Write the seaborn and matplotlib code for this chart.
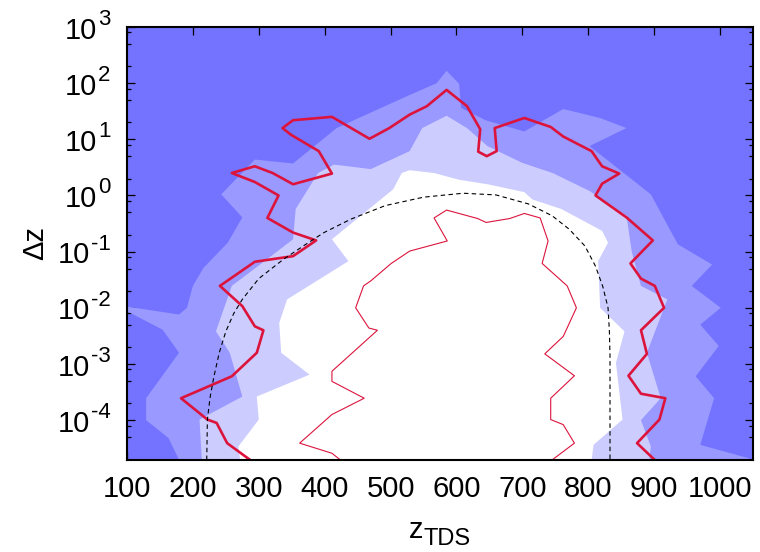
import numpy as np
import matplotlib
matplotlib.use("Agg")
import matplotlib.pyplot as plt
import seaborn as sns
from matplotlib.ticker import NullFormatter, FixedLocator
from matplotlib.transforms import blended_transform_factory, ScaledTranslation

sns.set_theme(style="ticks")
plt.rcParams["font.family"] = ["Liberation Sans", "DejaVu Sans"]
plt.rcParams["text.color"] = "black"
plt.rcParams["axes.labelcolor"] = "black"
plt.rcParams["xtick.color"] = "black"
plt.rcParams["ytick.color"] = "black"

# filled contour colours, from the outermost level inwards
level_colors = ["#7373ff", "#9999ff", "#ccccff", "#ffffff"]

# boundary of level 1 (z_TDS, log10 Δz)
lvl1_z = [191, 163, 129, 129, 179, 154, 95, 95, 179, 191, 200, 216, 253, 275,
          243, 294, 352, 418, 529, 570, 585, 604, 607, 644, 703, 762, 818, 858,
          802, 895, 936, 988, 957, 1001, 970, 998, 963, 991, 970, 1044, 1044]
lvl1_logdz = [-5.0, -4.32, -4.0, -3.61, -2.80, -2.39, -2.03, -1.97, -2.12, -2.0,
              -1.61, -1.29, -0.84, -0.39, 0.02, 0.64, 0.57, 1.20, 1.79, 2.0, 2.22,
              1.99, 1.56, 1.34, 1.14, 1.54, 1.38, 1.20, 0.88, 0.02, -0.87, -1.23,
              -1.61, -2.0, -2.30, -2.68, -3.22, -3.61, -4.44, -4.68, -5.0]

# boundary of level 2
lvl2_z = [215, 210, 275, 256, 235, 259, 312, 352, 356, 390, 414, 470, 529, 548,
          585, 616, 647, 700, 746, 802, 858, 866, 880, 920, 889, 910, 880, 895, 890]
lvl2_logdz = [-5.0, -3.99, -3.58, -2.80, -2.42, -1.61, -1.14, -0.78, -0.24, 0.40,
              0.55, 0.47, 0.79, 1.20, 1.42, 1.20, 0.88, 0.58, 0.40, 0.08, -0.36,
              -1.0, -1.61, -1.85, -2.80, -3.61, -4.0, -4.47, -5.0]

# boundary of level 3
lvl3_z = [275, 269, 300, 297, 377, 334, 331, 343, 436, 411, 504, 517, 529, 566,
          604, 647, 703, 715, 759, 821, 830, 815, 818, 855, 842, 852, 808, 802]
lvl3_logdz = [-5.0, -4.47, -3.99, -3.58, -3.19, -2.80, -2.27, -1.85, -1.17, -0.78,
              0.11, 0.40, 0.45, 0.40, 0.28, 0.20, 0.06, -0.07, -0.24, -0.63, -0.84,
              -1.17, -2.0, -2.42, -2.98, -3.99, -4.44, -5.0]

# outer red contour
outer_z = [287, 252, 236, 222, 182, 259, 297, 307, 294, 275, 241, 294, 352, 387,
           352, 313, 330, 294, 259, 294, 321, 352, 411, 391, 349, 336, 352, 411,
           468, 498, 529, 555, 585, 616, 636, 633, 646, 661, 658, 703, 743, 762,
           805, 821, 847, 821, 811, 858, 898, 864, 880, 901, 915, 880, 889, 861,
           880, 917, 908, 874, 901]
outer_logdz = [-4.71, -4.41, -4.05, -3.99, -3.61, -3.22, -2.80, -2.40, -2.33, -1.97,
               -1.61, -1.18, -1.08, -0.80, -0.66, -0.40, 0.0, 0.24, 0.40, 0.52,
               0.40, 0.20, 0.39, 0.79, 1.08, 1.20, 1.34, 1.40, 1.01, 1.20, 1.44,
               1.59, 1.88, 1.59, 1.18, 0.78, 0.70, 0.79, 1.20, 1.38, 1.22, 1.05,
               0.79, 0.52, 0.39, 0.21, 0.0, -0.39, -0.80, -1.21, -1.48, -1.61,
               -2.0, -2.40, -2.82, -3.21, -3.53, -3.61, -3.99, -4.41, -4.71]

# inner red contour
inner_z = [424, 411, 362, 411, 460, 411, 411, 480, 467, 447, 459, 470, 501, 529,
           586, 566, 585, 632, 645, 681, 703, 727, 739, 730, 768, 782, 762, 734,
           779, 743, 743, 762, 779, 745]
inner_logdz = [-4.71, -4.59, -4.41, -3.90, -3.61, -3.31, -3.13, -2.40, -2.36, -2.0,
               -1.61, -1.52, -1.21, -0.99, -0.81, -0.40, -0.26, -0.41, -0.48, -0.41,
               -0.32, -0.40, -0.81, -1.21, -1.61, -2.0, -2.51, -2.82, -3.21, -3.61,
               -3.99, -4.08, -4.41, -4.71]

# dashed limiting curve
limit_z = [221, 222, 226, 232, 240, 250, 262, 275, 300, 337, 370, 399, 440, 492,
           550, 610, 660, 709, 745, 771, 795, 811, 822, 830, 832, 833, 833]
limit_logdz = [-4.71, -3.99, -3.60, -3.22, -2.80, -2.42, -2.10, -1.85, -1.48, -1.14,
               -0.88, -0.66, -0.42, -0.18, -0.03, 0.04, 0.01, -0.15, -0.36, -0.60,
               -0.90, -1.26, -1.62, -2.0, -2.40, -2.86, -4.71]

# axis ticks
x_ticks = [100, 200, 300, 400, 500, 600, 700, 800, 900, 1000]
y_decades = [-4, -3, -2, -1, 0, 1, 2, 3]
y_minor_mult = [2, 5, 8]

BASE_FS = 21
SUP_FS = 16

fig = plt.figure(figsize=(7.6, 5.52), dpi=100)
ax = fig.add_axes([127 / 760, 92 / 552, 626 / 760, 433 / 552])
ax.set_yscale("log")
ax.set_facecolor(level_colors[0])

for zs, ls, col in [(lvl1_z, lvl1_logdz, level_colors[1]),
                    (lvl2_z, lvl2_logdz, level_colors[2]),
                    (lvl3_z, lvl3_logdz, level_colors[3])]:
    ax.fill(zs, 10.0 ** np.asarray(ls), color=col, lw=0, zorder=1)

sns.lineplot(x=outer_z, y=10.0 ** np.asarray(outer_logdz), sort=False,
             estimator=None, color="#dc143c", lw=1.9, ax=ax, zorder=3)
sns.lineplot(x=inner_z, y=10.0 ** np.asarray(inner_logdz), sort=False,
             estimator=None, color="#dc143c", lw=0.8, ax=ax, zorder=3)
sns.lineplot(x=limit_z, y=10.0 ** np.asarray(limit_logdz), sort=False,
             estimator=None, color="black", lw=0.8, ax=ax, zorder=4,
             linestyle=(0, (4, 3)))

ax.set_xlim(100, 1050)
ax.set_ylim(10 ** -4.71, 1e3)
ax.xaxis.set_major_locator(FixedLocator(x_ticks))
ax.yaxis.set_major_locator(FixedLocator([10.0 ** d for d in y_decades]))
ax.yaxis.set_minor_locator(FixedLocator(
    [m * 10.0 ** d for d in [-5] + y_decades[:-1] for m in y_minor_mult
     if m * 10.0 ** d > 10 ** -4.69]))
ax.yaxis.set_minor_formatter(NullFormatter())

for s in ax.spines.values():
    s.set_visible(True)
    s.set_linewidth(1.5)
    s.set_color("black")
    s.set_zorder(5)

ax.tick_params(which="both", direction="in", top=True, right=True,
               color="black", width=0.9, labelsize=BASE_FS)
ax.tick_params(which="major", length=6)
ax.tick_params(which="minor", length=3)
ax.tick_params(axis="x", pad=11)
ax.tick_params(axis="y", labelleft=False)

# decade labels on the log axis: "10" with a raised exponent
ytrans = blended_transform_factory(ax.transAxes, ax.transData)
for d in y_decades:
    sup_off = ScaledTranslation(-0.165, 0.02, fig.dpi_scale_trans)
    sup = ax.text(0, 10.0 ** d, f"{d}", transform=ytrans + sup_off,
                  ha="right", va="baseline", fontsize=SUP_FS)
    ax.annotate("10", xy=(0, 0), xycoords=sup, xytext=(-0.5, -10.5),
                textcoords="offset points", ha="right", va="bottom",
                fontsize=BASE_FS)

# axis titles
ax.set_ylabel("Δz", fontsize=BASE_FS)
ax.yaxis.set_label_coords(-0.125, 0.5)
fig.text(409 / 760, (552 - 538) / 552, "z", ha="left", va="baseline",
         fontsize=BASE_FS)
fig.text(424 / 760, (552 - 545) / 552, "TDS", ha="left", va="baseline",
         fontsize=SUP_FS + 1)

fig.savefig("out.png", dpi=100)
